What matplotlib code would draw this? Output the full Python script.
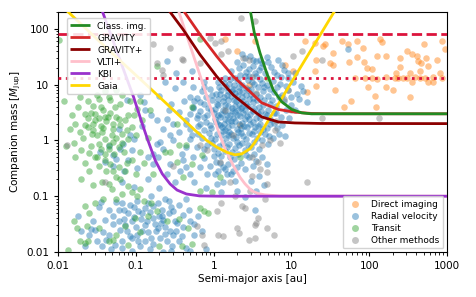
import numpy as np
import matplotlib
matplotlib.use("Agg")
import matplotlib.pyplot as plt
from matplotlib.lines import Line2D
from matplotlib.ticker import FixedLocator, FixedFormatter, LogLocator, NullFormatter

# ---------------- detection-limit curves: (log10 a [au], log10 M [M_Jup]) ----------------
class_img = [(0.468, 2.351), (0.523, 1.929), (0.596, 1.568), (0.683, 1.206), (0.767, 0.904),
             (0.875, 0.693), (1.004, 0.555), (1.132, 0.494), (1.261, 0.476), (1.5, 0.477), (3.0, 0.477)]
gravity = [(-0.40, 2.35), (-0.175, 1.899), (0.040, 1.506), (0.253, 1.145), (0.468, 0.873),
           (0.618, 0.674), (0.832, 0.555), (1.046, 0.506), (1.261, 0.483), (1.5, 0.478), (3.0, 0.477)]
gravity_plus = [(-0.586, 2.351), (-0.393, 1.989), (-0.175, 1.537), (0.040, 1.145), (0.253, 0.814),
                (0.468, 0.573), (0.618, 0.421), (0.832, 0.331), (1.046, 0.313), (1.368, 0.304), (3.0, 0.301)]
vlti_plus = [(-0.458, 2.351), (-0.188, 1.221), (0.057, 0.181), (0.147, -0.15), (0.253, -0.45),
             (0.339, -0.66), (0.404, -0.78), (0.490, -0.904), (0.575, -0.953), (0.661, -0.976),
             (0.853, -0.995), (3.0, -1.0)]
kbi = [(-1.44, 2.35), (-1.24, 1.58), (-1.03, 0.78), (-0.93, 0.35), (-0.85, 0.02), (-0.75, -0.36),
       (-0.66, -0.60), (-0.56, -0.78), (-0.47, -0.89), (-0.35, -0.96), (-0.18, -0.995), (0.08, -1.0), (3.0, -1.0)]
gaia = [(-1.96, 2.42), (-1.332, 1.597), (-0.817, 0.935), (-0.239, 0.181), (-0.089, 0.0), (0.040, -0.121),
        (0.168, -0.212), (0.275, -0.259), (0.361, -0.241), (0.468, -0.150), (0.532, -0.03), (0.60, 0.12),
        (0.70, 0.35), (1.0, 1.04), (1.3, 1.73), (1.60, 2.42)]

curve_labels = ["Class. img.", "GRAVITY", "GRAVITY+", "VLTI+", "KBI", "Gaia"]
curve_colors = ["forestgreen", "tab:red", "darkred", "pink", "darkorchid", "gold"]

# burning limits [M_Jup]
hydrogen_limit = 80
deuterium_limit = 13

# ---------------- companions: (log10 a [au], log10 M [M_Jup]) ----------------
direct_imaging = [
    (1.65, 1.78), (1.73, 1.73), (1.84, 1.78), (1.92, 1.66), (2.14, 1.81), (2.16, 1.77), (1.74, 1.40),
    (1.84, 1.49), (1.93, 1.40), (1.97, 1.30), (2.03, 1.28), (2.10, 1.51), (2.22, 1.52), (2.40, 1.48),
    (2.48, 1.60), (2.55, 1.54), (2.61, 1.51), (2.63, 1.42), (2.67, 1.39), (2.65, 1.24), (2.70, 1.72),
    (2.73, 1.48), (2.76, 1.33), (2.87, 1.45), (2.93, 1.78), (2.97, 1.63), (2.91, 1.21), (2.82, 1.14),
    (2.40, 1.31), (2.35, 1.21), (2.33, 1.12), (2.37, 1.12), (2.44, 1.12), (2.48, 1.12), (2.52, 1.21),
    (2.55, 1.05), (2.52, 0.78), (2.31, 0.90), (2.22, 0.96), (2.22, 1.14), (2.10, 1.10), (2.03, 1.12),
    (1.95, 1.12), (1.99, 0.96), (1.82, 1.12), (2.07, 0.80), (2.09, 0.60), (1.77, 0.71), (1.67, 0.60),
    (2.76, 1.05), (2.82, 1.05), (2.65, 1.12), (2.59, 1.14), (2.72, 1.12), (2.93, 1.12), (0.53, 1.78),
    (1.17, 1.78), (1.30, 1.75), (1.43, 1.72), (1.54, 1.57), (1.32, 1.45), (1.50, 1.39), (1.54, 1.36),
    (0.92, 1.36), (1.02, 1.24), (1.30, 1.24), (1.20, 0.87), (1.32, 0.98), (1.56, 0.90), (0.15, 1.81),
    (0.30, 1.60), (1.41, 1.69), (0.34, 0.27), (0.45, 1.00),
]

radial_velocity = [
    # main cluster
    (0.40, 1.47), (0.47, 1.52), (0.55, 1.43), (0.62, 1.38), (0.83, 1.45), (0.30, 1.40), (0.68, 1.49),
    (0.22, 1.25), (0.33, 1.30), (0.41, 1.22), (0.50, 1.33), (0.58, 1.27), (0.66, 1.21), (0.74, 1.31),
    (0.82, 1.18), (0.95, 1.11), (0.90, 1.27), (0.45, 1.16), (0.28, 1.12),
    (0.05, 1.05), (0.14, 1.12), (0.20, 1.01), (0.31, 1.06), (0.37, 0.99), (0.44, 1.08), (0.52, 1.02),
    (0.60, 1.10), (0.68, 1.00), (0.76, 1.07), (0.85, 1.02), (1.02, 1.05), (1.12, 0.97), (0.57, 0.95), (0.25, 0.93),
    (-0.15, 0.88), (-0.05, 0.92), (0.03, 0.84), (0.10, 0.91), (0.17, 0.82), (0.23, 0.89), (0.30, 0.80),
    (0.36, 0.87), (0.42, 0.81), (0.48, 0.92), (0.55, 0.84), (0.63, 0.89), (0.70, 0.80), (0.78, 0.86),
    (0.88, 0.82), (0.96, 0.90), (1.07, 0.83), (0.50, 0.76), (0.13, 0.77),
    (-0.25, 0.70), (-0.12, 0.66), (-0.02, 0.73), (0.06, 0.64), (0.12, 0.70), (0.19, 0.61), (0.26, 0.72),
    (0.32, 0.65), (0.38, 0.71), (0.44, 0.62), (0.51, 0.68), (0.58, 0.60), (0.65, 0.73), (0.72, 0.66),
    (0.80, 0.61), (0.90, 0.70), (0.99, 0.63), (0.35, 0.58), (0.02, 0.57),
    (-0.30, 0.48), (-0.18, 0.52), (-0.08, 0.45), (0.01, 0.50), (0.08, 0.42), (0.15, 0.53), (0.21, 0.46),
    (0.28, 0.51), (0.34, 0.43), (0.40, 0.54), (0.47, 0.47), (0.54, 0.41), (0.61, 0.52), (0.69, 0.45),
    (0.77, 0.50), (0.86, 0.42), (0.25, 0.40), (-0.22, 0.40),
    (-0.35, 0.30), (-0.20, 0.25), (-0.10, 0.33), (-0.03, 0.22), (0.05, 0.30), (0.11, 0.24), (0.18, 0.34),
    (0.24, 0.27), (0.30, 0.21), (0.37, 0.31), (0.43, 0.24), (0.50, 0.33), (0.57, 0.26), (0.64, 0.20),
    (0.72, 0.29), (0.82, 0.22), (0.15, 0.18),
    (-0.28, 0.10), (-0.15, 0.05), (-0.06, 0.13), (0.02, 0.02), (0.09, 0.10), (0.16, 0.04), (0.22, 0.12),
    (0.29, 0.06), (0.35, 0.14), (0.42, 0.03), (0.49, 0.11), (0.56, 0.05), (0.66, 0.12), (0.76, 0.04), (0.92, 0.08),
    (-0.22, -0.12), (-0.08, -0.08), (0.00, -0.16), (0.07, -0.10), (0.14, -0.19), (0.20, -0.06), (0.27, -0.14),
    (0.33, -0.09), (0.40, -0.18), (0.48, -0.11), (0.58, -0.15), (0.70, -0.07),
    (-0.12, -0.32), (0.03, -0.38), (0.10, -0.28), (0.18, -0.42), (0.26, -0.33), (0.35, -0.40), (0.45, -0.30),
    (0.55, -0.36), (0.68, -0.43),
    (0.05, -0.55), (0.22, -0.60), (0.40, -0.52), (0.58, -0.63), (0.48, -0.72), (0.65, -0.80), (0.12, -0.75),
    (0.55, -0.90), (0.53, -1.24), (0.40, -1.02),
    (0.12, 0.55), (0.18, 0.72), (0.28, 0.62), (0.38, 0.50), (0.45, 0.75), (0.22, 0.35), (0.32, 0.95),
    (0.08, 0.28), (0.40, 0.38), (0.27, 0.85), (0.20, 0.15), (0.35, 0.22), (0.16, 0.95), (0.05, 0.75),
    (0.44, 0.90), (0.52, 0.58), (0.30, 0.45), (0.10, 0.48), (0.24, 0.58), (0.36, 0.78), (0.47, 0.30),
    (0.15, 0.38), (0.60, 0.40), (0.02, 0.38), (0.26, 1.00), (0.40, 1.15), (0.55, 1.15), (0.65, 0.95),
    (0.70, 0.55), (0.60, 0.78), (1.73, 1.63),
    (0.07, 0.95), (0.13, 1.03), (0.21, 1.10), (0.34, 1.17), (0.38, 1.35), (0.46, 1.28), (0.53, 1.20),
    (0.61, 1.32), (0.70, 1.40), (0.77, 1.22), (0.86, 1.13), (0.93, 0.97), (0.81, 0.95), (0.73, 0.93),
    (0.62, 1.03), (0.49, 1.05), (0.41, 0.94), (0.33, 0.88), (0.19, 0.88), (0.08, 0.83), (-0.02, 0.81),
    (-0.10, 0.77), (-0.18, 0.68), (-0.07, 0.58), (0.04, 0.66), (0.15, 0.63), (0.22, 0.79), (0.29, 0.70),
    (0.41, 0.66), (0.48, 0.83), (0.56, 0.72), (0.64, 0.64), (0.75, 0.72), (0.84, 0.77), (0.93, 0.55),
    (0.80, 0.50), (0.73, 0.38), (0.66, 0.47), (0.57, 0.50), (0.50, 0.52), (0.43, 0.44), (0.37, 0.60),
    (0.31, 0.54), (0.23, 0.52), (0.17, 0.46), (0.05, 0.46), (-0.04, 0.55), (-0.13, 0.42), (-0.26, 0.58),
    (-0.17, 0.30), (-0.05, 0.28), (0.03, 0.33), (0.13, 0.30), (0.19, 0.24), (0.27, 0.35), (0.33, 0.30),
    (0.39, 0.26), (0.46, 0.38), (0.53, 0.24), (0.60, 0.30), (0.68, 0.22), (0.78, 0.31), (0.88, 0.27),
    (0.60, 0.15), (0.52, 0.17), (0.45, 0.14), (0.38, 0.08), (0.31, 0.15), (0.25, 0.05), (0.18, 0.10),
    (0.12, 0.16), (0.04, 0.12), (-0.04, 0.05), (-0.12, 0.18), (-0.20, 0.12), (-0.30, 0.20), (-0.12, -0.15),
    (-0.02, -0.05), (0.05, -0.22), (0.12, -0.04), (0.17, -0.12), (0.23, -0.20), (0.30, -0.02), (0.37, -0.05),
    (0.44, -0.08), (0.52, -0.02), (0.62, 0.00), (0.71, 0.08), (0.84, 0.12), (0.52, -0.24), (0.42, -0.26),
    (0.31, -0.24), (0.21, -0.30), (0.08, -0.40), (0.00, -0.28), (-0.05, -0.45), (0.30, -0.47), (0.62, -0.30),
    (0.50, -0.45), (0.15, -0.52), (0.97, 0.40), (1.05, 0.55), (1.10, 0.75), (1.00, 0.78), (1.15, 0.88),
    (1.20, 0.68), (0.95, 1.20), (1.05, 1.20), (0.88, 1.35), (0.60, 1.45), (0.50, 1.45), (0.36, 1.55),
    # intermediate
    (-0.60, 1.42), (-0.39, 1.05), (-0.26, 0.96), (-0.13, 1.05), (-0.50, 0.94), (-0.30, 0.78), (-0.22, 0.76),
    (-0.58, 0.54), (-0.45, 0.51), (-0.35, 0.36), (-0.60, 0.39), (-0.73, 0.36), (-0.52, 0.30), (-0.26, 0.60),
    (-0.69, -0.03), (-0.52, 0.0), (-0.35, -0.12), (-0.65, -0.15), (-0.41, -0.24), (-0.26, -0.30),
    (-0.71, -0.30), (-0.56, -0.42), (-0.43, -0.54), (-0.30, -0.60), (-0.17, -0.48), (-0.09, -0.60),
    (0.02, -0.60), (0.12, -0.48), (0.17, -0.60), (0.25, -0.54), (0.28, -0.72), (0.04, -0.78),
    (-0.78, -0.42), (-0.78, -0.24), (-0.73, -0.06), (-0.56, 0.09), (-0.30, 0.03), (-0.35, -0.48),
    (-0.80, -0.99), (-0.62, -1.05),
    (-0.70, 0.80), (-0.62, 1.05), (-0.48, 1.20), (-0.38, 0.70), (-0.45, 0.15), (-0.20, 0.45), (-0.12, 0.95),
    (-0.28, 1.25), (-0.55, 0.65), (-0.65, 0.20), (-0.40, -0.35), (-0.60, -0.60), (-0.50, -0.75),
    (-0.25, -0.75), (-0.10, -0.85), (0.10, -0.92), (0.30, -0.90), (-0.85, -0.70), (-0.70, -0.85),
    # hot Jupiters among transits
    (-1.12, 0.72), (-0.90, 0.69), (-1.29, -0.27), (-1.25, -0.33), (-1.16, -0.06), (-1.05, -0.18),
    (-1.46, -0.21), (-1.40, -0.39), (-1.29, -0.45), (-1.02, 0.03), (-1.18, -0.75), (-1.02, -0.84),
    (-0.95, 0.81), (-0.88, 0.54), (-1.20, -0.15), (-1.10, -0.35), (-1.35, -0.10), (-1.08, 0.10),
    (-1.22, 0.20), (-0.98, -0.50), (-1.15, -0.55), (-0.85, -0.30), (-0.92, 0.25), (-0.80, 0.45),
    # low-mass cluster
    (-1.40, -1.42), (-1.52, -1.60), (-1.29, -1.36), (-1.22, -1.24), (-1.18, -1.12), (-1.14, -1.51),
    (-1.05, -1.45), (-0.97, -1.27), (-0.88, -1.21), (-0.88, -1.51), (-0.84, -1.12), (-0.92, -1.63),
    (-1.05, -1.75), (-1.18, -1.81), (-1.27, -1.87), (-1.44, -1.90), (-1.65, -1.90), (-1.35, -1.69),
    (-1.12, -1.63), (-0.97, -1.81), (-0.80, -1.75), (-0.78, -1.39), (-0.78, -1.18), (-0.67, -1.24),
    (-0.58, -1.08), (-0.52, -1.27), (-0.65, -1.42), (-0.47, -1.48), (-0.71, -1.57), (-0.56, -1.63),
    (-0.39, -1.33), (-0.30, -1.45), (-0.41, -1.72), (-0.69, -1.75), (-0.35, -1.93), (-0.54, -1.90),
    (-1.10, -1.30), (-1.00, -1.55), (-0.93, -1.40), (-1.20, -1.60), (-1.30, -1.50), (-0.85, -1.65),
    (-1.02, -1.20), (-0.75, -1.50), (-0.62, -1.55), (-1.15, -1.40), (-0.95, -1.90), (-1.38, -1.78),
    (-0.70, -1.35), (-0.60, -1.80), (-1.55, -1.45), (-1.60, -1.70), (-0.48, -1.62), (-0.45, -1.15),
    (-0.25, -1.70), (-0.20, -1.35), (-1.48, -1.20), (-1.05, -1.98), (-0.82, -1.95), (-0.55, -1.98),
    (-1.45, -1.10), (-1.35, -1.25), (-1.25, -1.10), (-1.15, -1.25), (-1.08, -1.15), (-0.98, -1.08),
    (-0.92, -1.30), (-0.82, -1.28), (-0.72, -1.12), (-0.66, -1.35), (-0.58, -1.30), (-0.50, -1.45),
    (-0.40, -1.55), (-0.32, -1.25), (-0.36, -1.05), (-0.45, -1.80), (-0.52, -1.70), (-0.62, -1.68),
    (-0.74, -1.62), (-0.78, -1.85), (-0.88, -1.80), (-0.98, -1.70), (-1.08, -1.72), (-1.18, -1.92),
    (-1.32, -1.95), (-1.42, -1.65), (-1.50, -1.80), (-1.58, -1.58), (-1.70, -1.62), (-1.75, -1.35),
    (-1.22, -1.45), (-1.02, -1.38), (-0.86, -1.45), (-0.68, -1.48), (-0.55, -1.20), (-0.25, -1.50),
    (-0.15, -1.62), (-0.10, -1.95), (-0.30, -1.98), (-0.65, -2.0),
]

transit = [
    (-1.72, 0.78), (-1.48, 0.75), (-1.33, 0.72), (-1.18, 0.81), (-0.99, 0.57), (-1.65, 0.48), (-1.52, 0.36),
    (-1.40, 0.42), (-1.25, 0.42), (-1.14, 0.36), (-1.05, 0.24), (-1.78, 0.30), (-1.61, 0.24), (-0.92, 0.36),
    (-1.57, 0.12), (-1.44, 0.15), (-1.31, 0.09), (-1.18, 0.12), (-1.10, 0.03), (-1.48, -0.06), (-1.35, -0.09),
    (-1.22, -0.12), (-1.40, -0.24), (-1.33, -0.42), (-1.22, -0.48), (-1.52, -0.30), (-1.70, -0.18),
    (-1.78, -0.30), (-1.14, -0.54), (-1.44, -0.75), (-1.31, -0.87), (-1.18, -0.96), (-1.05, -0.93),
    (-0.95, -0.87), (-0.90, -1.08),
    (-1.55, 0.30), (-1.45, 0.25), (-1.38, 0.35), (-1.30, 0.20), (-1.25, 0.05), (-1.40, 0.02), (-1.50, 0.10),
    (-1.35, -0.15), (-1.28, -0.25), (-1.45, -0.15), (-1.20, 0.28), (-1.15, -0.20), (-1.58, -0.10),
    (-1.62, 0.40), (-1.33, 0.50), (-1.42, 0.55), (-1.27, 0.60), (-1.55, 0.62), (-1.68, 0.05), (-1.10, 0.45),
    (-1.00, 0.10), (-1.05, -0.35), (-1.38, -0.55), (-1.48, -0.45), (-1.60, -0.55), (-1.20, -0.70),
    (-1.75, 0.60), (-1.85, 0.20), (-1.90, -0.10), (-1.70, -0.70), (-1.25, 0.90), (-1.40, 0.88),
    (-0.95, 0.70), (-0.85, 0.05), (-0.90, -0.40), (-1.52, 0.48), (-1.36, 0.42), (-1.22, 0.38),
    (-1.62, 0.70), (-1.50, 0.82), (-1.35, 0.78), (-1.20, 0.65), (-1.08, 0.70), (-1.02, 0.45), (-1.12, 0.18),
    (-1.18, -0.05), (-1.30, -0.02), (-1.42, 0.22), (-1.55, 0.18), (-1.66, 0.28), (-1.72, 0.15), (-1.60, -0.22),
    (-1.50, -0.30), (-1.40, -0.35), (-1.30, -0.55), (-1.25, -0.65), (-1.12, -0.40), (-1.00, -0.60),
    (-0.95, -0.20), (-1.45, 0.60), (-1.30, 0.30), (-1.48, 0.40), (-1.58, 0.50), (-1.82, 0.45), (-1.92, 0.70),
    (-1.80, -0.05), (-1.65, -0.40), (-1.55, -0.80), (-1.35, -0.78), (-1.10, -0.82), (-0.98, -1.00),
    (-1.25, -1.05),
    (-1.65, -1.18), (-1.53, -1.13), (-1.72, -1.81), (-1.65, -1.84), (-1.35, -1.81), (-1.87, -1.96),
    (-1.80, -1.45), (-1.76, -1.57), (-1.63, -1.54), (-1.48, -1.57), (-1.29, -1.78), (-1.14, -1.54),
    (-1.01, -1.39), (-1.61, -1.81),
    (-0.78, -0.60), (-0.62, -0.21), (-0.56, -0.21), (-0.45, -0.09), (-0.35, -0.09), (-0.47, -0.39),
    (-0.39, -0.66), (-0.28, -0.42), (-0.15, -0.27), (-0.17, -0.90), (-0.02, -0.93), (0.08, -0.66),
    (-0.13, -1.27), (-0.07, -1.30), (-0.73, -1.27), (-0.80, -1.12), (-0.33, -1.57), (-0.41, -1.90),
    (-0.17, -1.21), (0.34, -0.30),
    (-0.73, 1.33), (-0.82, 0.54), (-0.28, 0.60), (-0.17, 1.81), (-0.47, 0.30), (0.68, 1.12), (-1.99, 1.80),
    (-1.60, -1.30), (-1.42, -1.05), (-1.25, -1.70), (-0.95, -1.65), (-0.70, -1.90), (-1.10, -1.88),
    (-0.60, -1.45), (-0.45, -1.40), (-0.28, -1.85), (-0.85, -1.35),
]

other_methods = [
    (-0.78, 1.72), (-0.56, 1.66), (-0.39, 1.45), (-0.17, 1.39), (-0.05, 1.84), (0.02, 1.75), (0.10, 1.78),
    (0.19, 1.60), (0.38, 1.48), (-0.73, 1.39), (-0.67, 1.27), (-0.65, 1.18), (0.53, 2.14), (1.13, 1.60),
    (0.45, 1.45), (0.10, 1.54), (1.02, 1.51), (1.39, 1.45),
    (0.49, -0.30), (0.60, -0.51), (0.68, -0.57), (0.68, -0.78), (0.49, -0.63), (0.66, -1.05), (0.40, -1.21),
    (0.57, -1.39), (0.55, -1.48), (0.53, -1.51), (0.68, -1.57), (0.77, -1.69), (0.45, -1.78), (0.53, -1.75),
    (1.20, -0.74), (-0.17, -0.09), (-0.09, -0.18), (0.08, -0.39), (0.21, -0.75), (0.10, -1.12), (0.04, -1.27),
    (0.36, -1.18), (0.30, -1.57), (0.32, -1.66), (0.12, -1.72), (0.06, -1.69), (-0.13, -1.87), (-0.15, -1.69),
    (-0.22, -1.54), (-0.52, -0.45), (2.13, 0.40), (1.39, 0.41), (-1.40, -0.75), (-1.89, -0.09),
    (0.49, 1.14), (0.96, 0.90), (-0.41, 1.46), (0.47, -0.90), (0.62, -0.09), (0.73, 0.0), (0.79, 0.18),
    (0.27, -1.0), (0.57, -0.39), (0.90, 0.75), (1.0, 0.55), (0.80, 0.35), (0.85, -0.05), (0.25, 0.1),
    (0.15, 0.55), (0.55, 0.85), (0.35, 2.2),
]

method_labels = ["Direct imaging", "Radial velocity", "Transit", "Other methods"]
method_colors = ["tab:orange", "tab:blue", "tab:green", "tab:gray"]

x_ticks = [0.01, 0.1, 1, 10, 100, 1000]
x_ticklabels = ["0.01", "0.1", "1", "10", "100", "1000"]
y_ticks = [0.01, 0.1, 1, 10, 100]
y_ticklabels = ["0.01", "0.1", "1", "10", "100"]

# ---------------- figure ----------------
plt.rcParams["font.family"] = ["DejaVu Sans"]
fig = plt.figure(figsize=(4.76, 2.97), dpi=100)
ax = fig.add_axes([0.122, 0.1515, 0.817, 0.808])

for pts, col in zip([direct_imaging, radial_velocity, transit, other_methods], method_colors):
    arr = np.array(pts)
    ax.scatter(10 ** arr[:, 0], 10 ** arr[:, 1], s=22, color=col, alpha=0.45, linewidths=0, zorder=2)

curves = [class_img, gravity, gravity_plus, vlti_plus, kbi, gaia]
zorders = [6, 5, 5, 4, 4, 4]
handles1 = []
for pts, col, lab, zo in zip(curves, curve_colors, curve_labels, zorders):
    arr = np.array(pts)
    ln, = ax.plot(10 ** arr[:, 0], 10 ** arr[:, 1], color=col, lw=2, label=lab, zorder=zo,
                  solid_capstyle="butt")
    handles1.append(ln)

ax.axhline(hydrogen_limit, color="crimson", ls="--", lw=2, zorder=3)
ax.axhline(deuterium_limit, color="crimson", ls=":", lw=2, zorder=3)

ax.set_xscale("log")
ax.set_yscale("log")
ax.set_xlim(0.01, 1000)
ax.set_ylim(0.01, 200)
ax.xaxis.set_major_locator(FixedLocator(x_ticks))
ax.xaxis.set_major_formatter(FixedFormatter(x_ticklabels))
ax.yaxis.set_major_locator(FixedLocator(y_ticks))
ax.yaxis.set_major_formatter(FixedFormatter(y_ticklabels))
ax.xaxis.set_minor_locator(LogLocator(base=10, subs=np.arange(2, 10), numticks=20))
ax.yaxis.set_minor_locator(LogLocator(base=10, subs=np.arange(2, 10), numticks=20))
ax.xaxis.set_minor_formatter(NullFormatter())
ax.yaxis.set_minor_formatter(NullFormatter())
ax.tick_params(labelsize=7.5, length=3)
ax.tick_params(which="minor", length=1.8)
ax.set_xlabel("Semi-major axis [au]", fontsize=7.5, labelpad=2)
ax.set_ylabel(r"Companion mass [$M_{\rm Jup}$]", fontsize=7.5, labelpad=2)

leg1 = ax.legend(handles=handles1, loc="upper left", bbox_to_anchor=(0.022, 0.975), fontsize=6.5,
                 handlelength=2.2, labelspacing=0.33, borderaxespad=0.0, framealpha=0.85)
ax.add_artist(leg1)
leg1.set_zorder(10)

handles2 = [Line2D([], [], ls="none", marker="o", markersize=5, markeredgewidth=0,
                   color=c, alpha=0.45, label=l) for c, l in zip(method_colors, method_labels)]
leg2 = ax.legend(handles=handles2, loc="lower right", fontsize=6.5, labelspacing=0.33,
                 handletextpad=0.8, borderaxespad=0.4, framealpha=0.85)
leg2.set_zorder(10)

fig.savefig("out.png", dpi=100)
